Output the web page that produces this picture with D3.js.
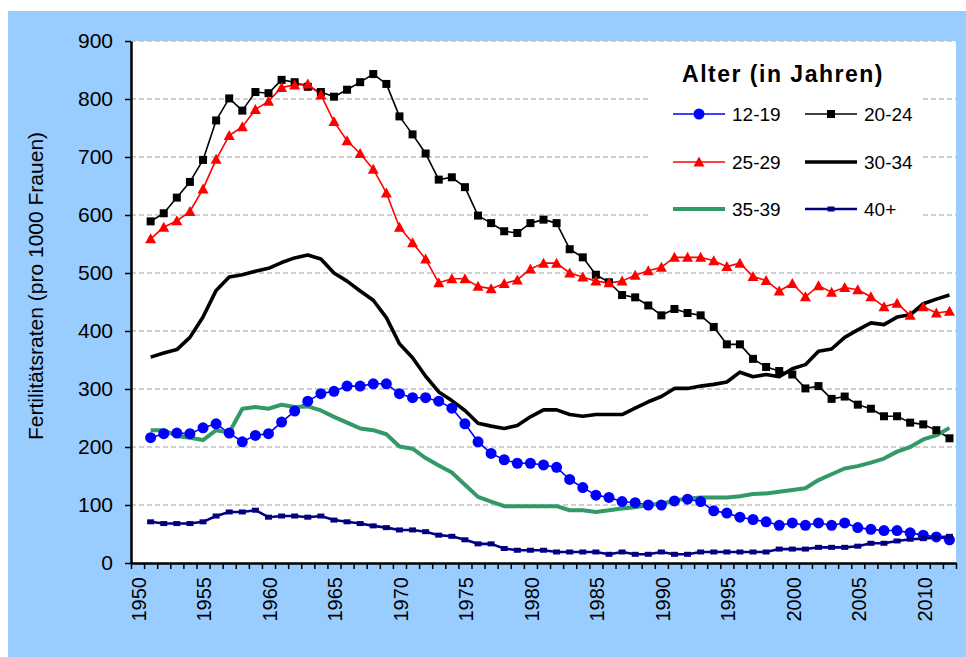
<!DOCTYPE html>
<html>
  <head>
    <meta charset="utf-8">
    <script src="https://cdn.jsdelivr.net/npm/d3@7"></script>
    <style>
      body { margin: 0; background: #fff; }
      text { font-family: Arial, "Liberation Sans", sans-serif; }
    </style>
  </head>
  <body>
    <svg width="966" height="657" id="svg1"></svg>
    <script>

    // categories
    var years = d3.range(1951, 2013);
    var axisYears = d3.range(1950, 2013);
    var labelYears = [1950, 1955, 1960, 1965, 1970, 1975, 1980, 1985, 1990, 1995, 2000, 2005, 2010];
    var yTicks = [0, 100, 200, 300, 400, 500, 600, 700, 800, 900];

    // Fertilitätsraten pro 1000 Frauen, 1951-2012
    var a12_19 = [216, 223, 224, 223, 233, 240, 224, 209, 220, 223,
                  243, 262, 279, 292, 296, 305, 305, 309, 309, 292,
                  285, 285, 279, 267, 240, 209, 189, 178, 172, 172,
                  169, 165, 144, 130, 117, 113, 106, 104, 100, 100,
                  107, 110, 106, 90, 86, 79, 75, 71, 65, 69,
                  65, 69, 65, 69, 61, 58, 56, 56, 52, 48,
                  45, 40];
    var a20_24 = [589, 603, 630, 657, 695, 763, 801, 780, 812, 810,
                  833, 829, 821, 812, 804, 816, 829, 843, 826, 770,
                  739, 706, 661, 665, 648, 599, 586, 572, 569, 586,
                  592, 586, 541, 527, 497, 484, 462, 458, 444, 427,
                  438, 431, 427, 407, 377, 377, 352, 338, 331, 325,
                  301, 305, 283, 287, 273, 266, 253, 253, 242, 239,
                  229, 215];
    var a25_29 = [559, 579, 590, 606, 645, 696, 737, 752, 782, 796,
                  820, 824, 826, 807, 761, 728, 706, 679, 638, 579,
                  552, 524, 483, 490, 490, 477, 473, 482, 488, 507,
                  517, 517, 500, 493, 486, 483, 486, 496, 504, 510,
                  527, 527, 527, 521, 511, 517, 494, 487, 469, 482,
                  459, 478, 467, 475, 471, 459, 442, 448, 427, 442,
                  431, 434];
    var a30_34 = [355, 362, 368, 389, 424, 470, 493, 497, 503, 508,
                  518, 526, 531, 524, 500, 486, 469, 453, 423, 378,
                  354, 322, 295, 280, 263, 241, 236, 232, 237, 252,
                  264, 264, 256, 253, 256, 256, 256, 267, 278, 287,
                  301, 301, 305, 308, 312, 329, 321, 325, 321, 335,
                  342, 365, 369, 389, 402, 414, 411, 424, 428, 447,
                  455, 462];
    var a35_39 = [229, 229, 219, 216, 212, 229, 225, 266, 269, 266,
                  273, 269, 270, 263, 252, 242, 232, 229, 222, 201,
                  197, 181, 168, 156, 135, 114, 106, 98, 98, 98,
                  98, 98, 91, 91, 88, 91, 94, 96, 100, 102,
                  108, 111, 113, 113, 113, 115, 119, 120, 123, 126,
                  129, 143, 153, 163, 167, 173, 180, 192, 200, 213,
                  220, 233];
    var a40plus = [71, 68, 68, 68, 71, 81, 88, 88, 91, 79,
                   81, 81, 79, 81, 74, 71, 68, 64, 61, 57,
                   57, 54, 48, 46, 40, 33, 33, 25, 22, 22,
                   22, 19, 19, 19, 19, 15, 19, 15, 15, 19,
                   15, 15, 19, 19, 19, 19, 19, 19, 24, 24,
                   24, 27, 27, 27, 29, 34, 34, 38, 41, 42,
                   44, 46];

    var series = [
      { name: "12-19", values: a12_19, color: "#0000ff", width: 1.6, marker: "circle" },
      { name: "20-24", values: a20_24, color: "#000000", width: 1.6, marker: "square" },
      { name: "25-29", values: a25_29, color: "#ff0000", width: 1.6, marker: "triangle" },
      { name: "30-34", values: a30_34, color: "#000000", width: 3.6, marker: null },
      { name: "35-39", values: a35_39, color: "#339966", width: 4, marker: null },
      { name: "40+",   values: a40plus, color: "#000080", width: 2.6, marker: "dash" }
    ];

    var svg = d3.select("#svg1");

    // blue frame and white plot area
    svg.append("rect").attr("x", 8).attr("y", 11).attr("width", 958).attr("height", 646)
       .attr("fill", "#99ccff");

    var plotLeft = 131, plotRight = 956, plotTop = 41, plotBottom = 563;

    svg.append("rect").attr("x", plotLeft).attr("y", plotTop)
       .attr("width", plotRight - plotLeft).attr("height", plotBottom - plotTop).attr("fill", "#fff");

    var x = d3.scaleBand().domain(axisYears).range([plotLeft, plotRight]).padding(0);
    var xEdge = d3.scaleLinear().domain([1950, 2013]).range([plotLeft, plotRight]);
    var y = d3.scaleLinear().domain([0, 900]).range([plotBottom, plotTop]);

    // gridlines
    svg.append("g")
       .selectAll("line")
       .data(yTicks.slice(1))
       .enter().append("line")
       .attr("x1", plotLeft).attr("x2", plotRight)
       .attr("y1", function(d) { return y(d); })
       .attr("y2", function(d) { return y(d); })
       .attr("stroke", "#c0c0c0")
       .attr("stroke-width", 1.5)
       .attr("stroke-dasharray", "5,3");

    // legend background covers the gridlines
    svg.append("rect").attr("x", 648).attr("y", 48).attr("width", 275).attr("height", 212)
       .attr("fill", "#fff");

    // lines
    var line = d3.line()
        .x(function(d, i) { return x(years[i]) + x.bandwidth() / 2; })
        .y(function(d) { return y(d); });

    series.forEach(function(s) {
      svg.append("path")
         .datum(s.values)
         .attr("fill", "none")
         .attr("stroke", s.color)
         .attr("stroke-width", s.width)
         .attr("stroke-linejoin", "round")
         .attr("d", line);
    });

    function drawMarker(sel, type, color) {
      if (type === "circle") {
        sel.append("circle").attr("r", 5.5).attr("fill", color);
      } else if (type === "square") {
        sel.append("rect").attr("x", -4).attr("y", -4).attr("width", 8).attr("height", 8).attr("fill", color);
      } else if (type === "triangle") {
        sel.append("path").attr("d", "M0,-5.5L5.5,4.5L-5.5,4.5Z").attr("fill", color);
      } else if (type === "dash") {
        sel.append("rect").attr("x", -3.5).attr("y", -2.5).attr("width", 7).attr("height", 5).attr("fill", color);
      }
    }

    series.forEach(function(s) {
      if (!s.marker) return;
      svg.append("g").selectAll("g")
         .data(s.values)
         .enter().append("g")
         .attr("transform", function(d, i) {
           return "translate(" + (x(years[i]) + x.bandwidth() / 2) + "," + y(d) + ")";
         })
         .each(function() { drawMarker(d3.select(this), s.marker, s.color); });
    });

    // y axis
    var yAxis = svg.append("g")
       .attr("transform", "translate(" + plotLeft + ",0)")
       .call(d3.axisLeft(y).tickValues(yTicks).tickSize(6).tickSizeOuter(0).tickPadding(12));
    yAxis.selectAll("text").attr("font-size", "21px").attr("fill", "#000").attr("font-family", "Arial, 'Liberation Sans', sans-serif");
    yAxis.select(".domain").attr("stroke-width", 2.5);
    yAxis.selectAll(".tick line").attr("stroke-width", 1.5);

    // x axis ticks at category edges
    var xAxis = svg.append("g")
       .attr("transform", "translate(0," + plotBottom + ")")
       .call(d3.axisBottom(xEdge).tickValues(d3.range(1950, 2014)).tickFormat("").tickSize(6).tickSizeOuter(0));
    xAxis.select(".domain").attr("stroke-width", 2.5);
    xAxis.selectAll(".tick line").attr("stroke-width", 1.5);

    // x labels centred on categories
    var xLab = svg.append("g")
       .attr("transform", "translate(0," + plotBottom + ")")
       .call(d3.axisBottom(x).tickValues(labelYears).tickSize(0));
    xLab.select(".domain").remove();
    xLab.selectAll("text")
       .attr("font-size", "20px")
       .attr("fill", "#000")
       .attr("font-family", "Arial, 'Liberation Sans', sans-serif")
       .attr("transform", "rotate(-90)")
       .attr("text-anchor", "end")
       .attr("x", -14)
       .attr("y", 0)
       .attr("dy", "0.42em");

    // y title
    svg.append("text")
       .attr("transform", "translate(43,286) rotate(-90)")
       .attr("text-anchor", "middle")
       .attr("font-size", "21px")
       .text("Fertilitätsraten (pro 1000 Frauen)");

    // legend
    svg.append("text")
       .attr("x", 783).attr("y", 82)
       .attr("text-anchor", "middle")
       .attr("font-size", "23px")
       .attr("font-weight", "bold")
       .attr("letter-spacing", "1.5px")
       .text("Alter (in Jahren)");

    var legCols = [673, 805], legRows = [114, 162, 209];
    series.forEach(function(s, i) {
      var lx = legCols[i % 2], ly = legRows[Math.floor(i / 2)];
      var g = svg.append("g");
      g.append("line").attr("x1", lx).attr("x2", lx + 52).attr("y1", ly).attr("y2", ly)
       .attr("stroke", s.color).attr("stroke-width", s.width);
      if (s.marker) {
        drawMarker(g.append("g").attr("transform", "translate(" + (lx + 26) + "," + ly + ")"), s.marker, s.color);
      }
      g.append("text").attr("x", lx + 59).attr("y", ly + 7)
       .attr("font-size", "19px")
       .text(s.name);
    });

    </script>
  </body>
</html>
